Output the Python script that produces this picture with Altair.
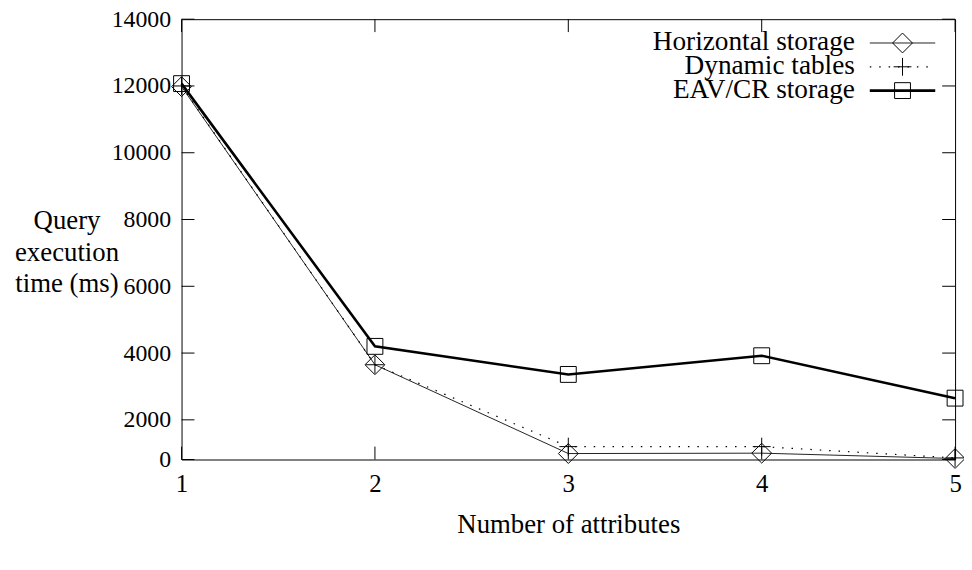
import altair as alt
import pandas as pd

# ---- data ----
attributes = [1, 2, 3, 4, 5]
horizontal = [11980, 3650, 300, 320, 50]
dynamic = [12000, 3650, 650, 650, 80]
eav = [12070, 4200, 3360, 3920, 2650]
series_names = ["Horizontal storage", "Dynamic tables", "EAV/CR storage"]
y_ticks = [0, 2000, 4000, 6000, 8000, 10000, 12000, 14000]
x_ticks = [1, 2, 3, 4, 5]
y_title = ["Query", "execution", "time (ms)"]
x_title = "Number of attributes"

W, H = 780, 444
FONT = "Liberation Serif"
TICK = 13
PLUS = "M-1,0L1,0M0,-1L0,1"

xs = alt.Scale(domain=[1, 5], nice=False, zero=False)
# the reference's value axis is compressed between 0 and 2000
ys = alt.Scale(domain=[0, 2000, 14000], range=[H, H - 40, 0],
               nice=False, zero=False)

X = alt.X("x:Q", scale=xs, axis=alt.Axis(
    values=x_ticks, format="d", title=x_title, ticks=False, tickSize=0,
    domain=False, grid=False, labelFontSize=25, labelPadding=12,
    titleFontSize=27, titlePadding=16, labelFlush=False))
Y = alt.Y("y:Q", scale=ys, axis=alt.Axis(
    values=y_ticks, format="d", title=y_title, ticks=False, tickSize=0,
    domain=False, grid=False, labelFontSize=24, labelPadding=11,
    titleFontSize=27, titleAngle=0, titleAlign="center",
    titleBaseline="middle", titleX=-116, titleY=203, titleLineHeight=32,
    labelFlush=False))

def series_df(vals):
    return pd.DataFrame({"x": attributes, "y": vals})

df_h = series_df(horizontal)
df_d = series_df(dynamic)
df_e = series_df(eav)
df_yt = pd.DataFrame({"y": y_ticks})
df_xt = pd.DataFrame({"x": x_ticks})

layers = []
# inward ticks (gnuplot style, mirrored)
layers.append(alt.Chart(df_yt).mark_rule(color="black", strokeWidth=1).encode(
    y=Y, x=alt.value(0), x2=alt.value(TICK)))
layers.append(alt.Chart(df_yt).mark_rule(color="black", strokeWidth=1).encode(
    y=Y, x=alt.value(W - TICK), x2=alt.value(W)))
layers.append(alt.Chart(df_xt).mark_rule(color="black", strokeWidth=1).encode(
    x=X, y=alt.value(H - TICK), y2=alt.value(H)))
layers.append(alt.Chart(df_xt).mark_rule(color="black", strokeWidth=1).encode(
    x=X, y=alt.value(0), y2=alt.value(TICK)))

styles = [
    dict(line=dict(color="#222", strokeWidth=1),
         pt=dict(shape="diamond", size=400)),
    dict(line=dict(color="black", strokeWidth=1.2, strokeDash=[1.5, 8]),
         pt=dict(shape=PLUS, size=324)),
    dict(line=dict(color="black", strokeWidth=2.6),
         pt=dict(shape="square", size=256)),
]

for df, st in zip([df_h, df_d, df_e], styles):
    layers.append(alt.Chart(df).mark_line(**st["line"]).encode(x=X, y=Y))
    layers.append(alt.Chart(df).mark_point(filled=False, color="black",
                                           strokeWidth=1, opacity=1,
                                           **st["pt"]).encode(x=X, y=Y))

# legend (gnuplot style: text, then sample line + marker)
row_y = [24, 48, 72]
text_right = 679
sample_x1, sample_x2 = 694, 760
for name, st, ry in zip(series_names, styles, row_y):
    one = pd.DataFrame({"label": [name]})
    layers.append(alt.Chart(one).mark_text(
        align="right", baseline="middle", font=FONT, fontSize=27.5,
        color="black", dy=-1).encode(
        text="label:N", x=alt.value(text_right), y=alt.value(ry)))
    layers.append(alt.Chart(one).mark_rule(**st["line"]).encode(
        x=alt.value(sample_x1), x2=alt.value(sample_x2), y=alt.value(ry)))
    layers.append(alt.Chart(one).mark_point(
        filled=False, color="black", strokeWidth=1, opacity=1,
        **st["pt"]).encode(
        x=alt.value((sample_x1 + sample_x2) / 2), y=alt.value(ry)))

chart = alt.layer(*layers).properties(
    width=W, height=H,
    autosize=alt.AutoSizeParams(type="none"),
    padding={"left": 175, "top": 9, "right": 9, "bottom": 93},
).configure_view(
    stroke="black", strokeWidth=1
).configure_axis(
    labelFont=FONT, titleFont=FONT, labelColor="black", titleColor="black",
    titleFontWeight="normal"
)

chart.save("out.html", embed_options={"renderer": "svg", "actions": False})
